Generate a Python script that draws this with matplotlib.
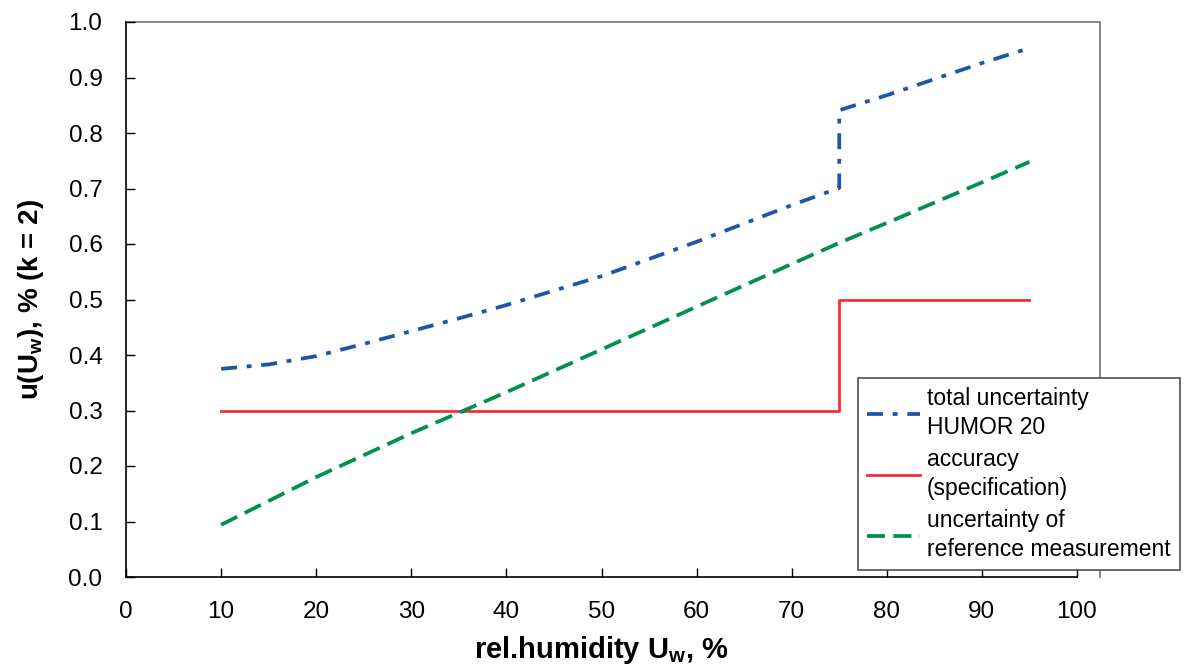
import matplotlib.pyplot as plt
from matplotlib.lines import Line2D

plt.rcParams['font.family'] = ['Liberation Sans', 'DejaVu Sans']
plt.rcParams['mathtext.fontset'] = 'custom'
plt.rcParams['mathtext.rm'] = 'Liberation Sans'
plt.rcParams['mathtext.bf'] = 'Liberation Sans:bold'
plt.rcParams['lines.scale_dashes'] = False

# total uncertainty HUMOR 20
total_x = [10, 15, 20, 25, 30, 35, 40, 45, 50, 55, 60, 65, 70, 75, 75, 80, 85, 90, 95]
total_y = [0.375, 0.383, 0.398, 0.420, 0.443, 0.466, 0.490, 0.516, 0.542, 0.573,
           0.604, 0.637, 0.670, 0.701, 0.841, 0.868, 0.897, 0.926, 0.953]

# accuracy (specification)
acc_x = [10, 75, 75, 95]
acc_y = [0.3, 0.3, 0.5, 0.5]

# uncertainty of reference measurement
ref_x = [10, 20, 30, 40, 50, 60, 70, 75, 80, 90, 95]
ref_y = [0.094, 0.180, 0.259, 0.333, 0.410, 0.487, 0.564, 0.602, 0.638, 0.711, 0.748]

fig = plt.figure(figsize=(11.88, 6.70), dpi=100)

# plot area frame: top and right edges, wider than the x axis
fig.add_artist(Line2D([126 / 1188, 1100 / 1188, 1100 / 1188],
                      [1 - 22 / 670, 1 - 22 / 670, 1 - 577 / 670],
                      transform=fig.transFigure, color='#707070', lw=1.2, zorder=0))

ax = fig.add_axes([126 / 1188, 1 - 577 / 670, (1077 - 126) / 1188, (577 - 22) / 670])
ax.patch.set_alpha(0)

ax.plot(total_x, total_y, color='#1f55a8', lw=2.7, dashes=(11.5, 7, 3.5, 7),
        solid_capstyle='butt', dash_capstyle='butt',
        label='total uncertainty\nHUMOR 20')
ax.plot(acc_x, acc_y, color='#ee3333', lw=2.0, label='accuracy\n(specification)')
ax.plot(ref_x, ref_y, color='#00914a', lw=2.7, dashes=(13, 6),
        dash_capstyle='butt', label='uncertainty of\nreference measurement')

ax.set_xlim(0, 100)
ax.set_ylim(0, 1.0)
ax.set_xticks(range(0, 101, 10))
ax.set_yticks([i / 10 for i in range(11)])
ax.set_yticklabels([f'{i / 10:.1f}' for i in range(11)])
ax.tick_params(direction='in', length=6.5, width=1, labelsize=17.5, pad=17)

ax.spines['top'].set_visible(False)
ax.spines['right'].set_visible(False)
for s in ['left', 'bottom']:
    ax.spines[s].set_color('black')
    ax.spines[s].set_linewidth(1.2)

ax.set_xlabel(r'rel.humidity U$_\mathbf{w}$, %', fontsize=21, fontweight='bold', labelpad=8)
ax.set_ylabel(r'u(U$_\mathbf{w}$), % (k = 2)', fontsize=20, fontweight='bold', labelpad=16)

leg = fig.legend(loc='upper left', bbox_to_anchor=(858 / 1188, 1 - 378 / 670), fontsize=16.5,
                 frameon=True, fancybox=False, edgecolor='#505050', framealpha=1,
                 handlelength=2.3, borderpad=0.4, labelspacing=0.42,
                 handletextpad=0.3, borderaxespad=0)
leg.get_frame().set_linewidth(1.2)
for t in leg.get_texts():
    t.set_linespacing(1.3)

fig.savefig('out.png', dpi=100)
